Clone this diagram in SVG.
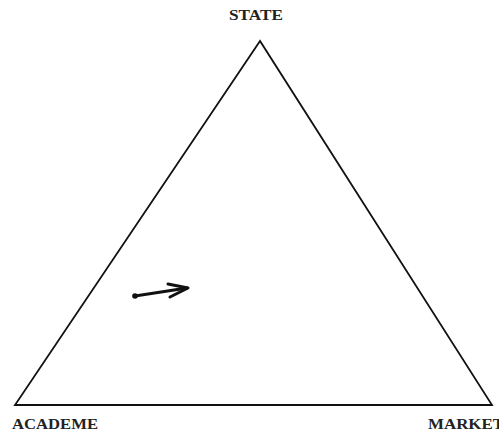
<svg xmlns="http://www.w3.org/2000/svg" width="499" height="434" viewBox="0 0 499 434">
<style>
.lbl{font-family:"Liberation Serif","Times New Roman",serif;font-weight:bold;font-size:14px;fill:#222}
.edge{stroke:#111;stroke-width:1.8;fill:none}
</style>
<rect width="499" height="434" fill="#fff"/>
<g id="connectors">
<path class="edge" d="M260,41 L15,405 L492,405 Z" stroke-linejoin="miter"/>
<g id="arrow">
<line x1="135" y1="296" x2="187" y2="288" stroke="#111" stroke-width="3" stroke-linecap="round"/>
<polyline points="168,284 188,288 170,297" fill="none" stroke="#111" stroke-width="3" stroke-linecap="round" stroke-linejoin="round"/>
<circle cx="135" cy="296" r="2.8" fill="#111"/>
</g>
</g>
<g id="state"><text class="lbl" x="256" y="20" text-anchor="middle" textLength="54" lengthAdjust="spacingAndGlyphs">STATE</text></g>
<g id="academe"><text class="lbl" x="12" y="429" textLength="86" lengthAdjust="spacingAndGlyphs">ACADEME</text></g>
<g id="market"><text class="lbl" x="428" y="429" textLength="76" lengthAdjust="spacingAndGlyphs">MARKET</text></g>
</svg>
